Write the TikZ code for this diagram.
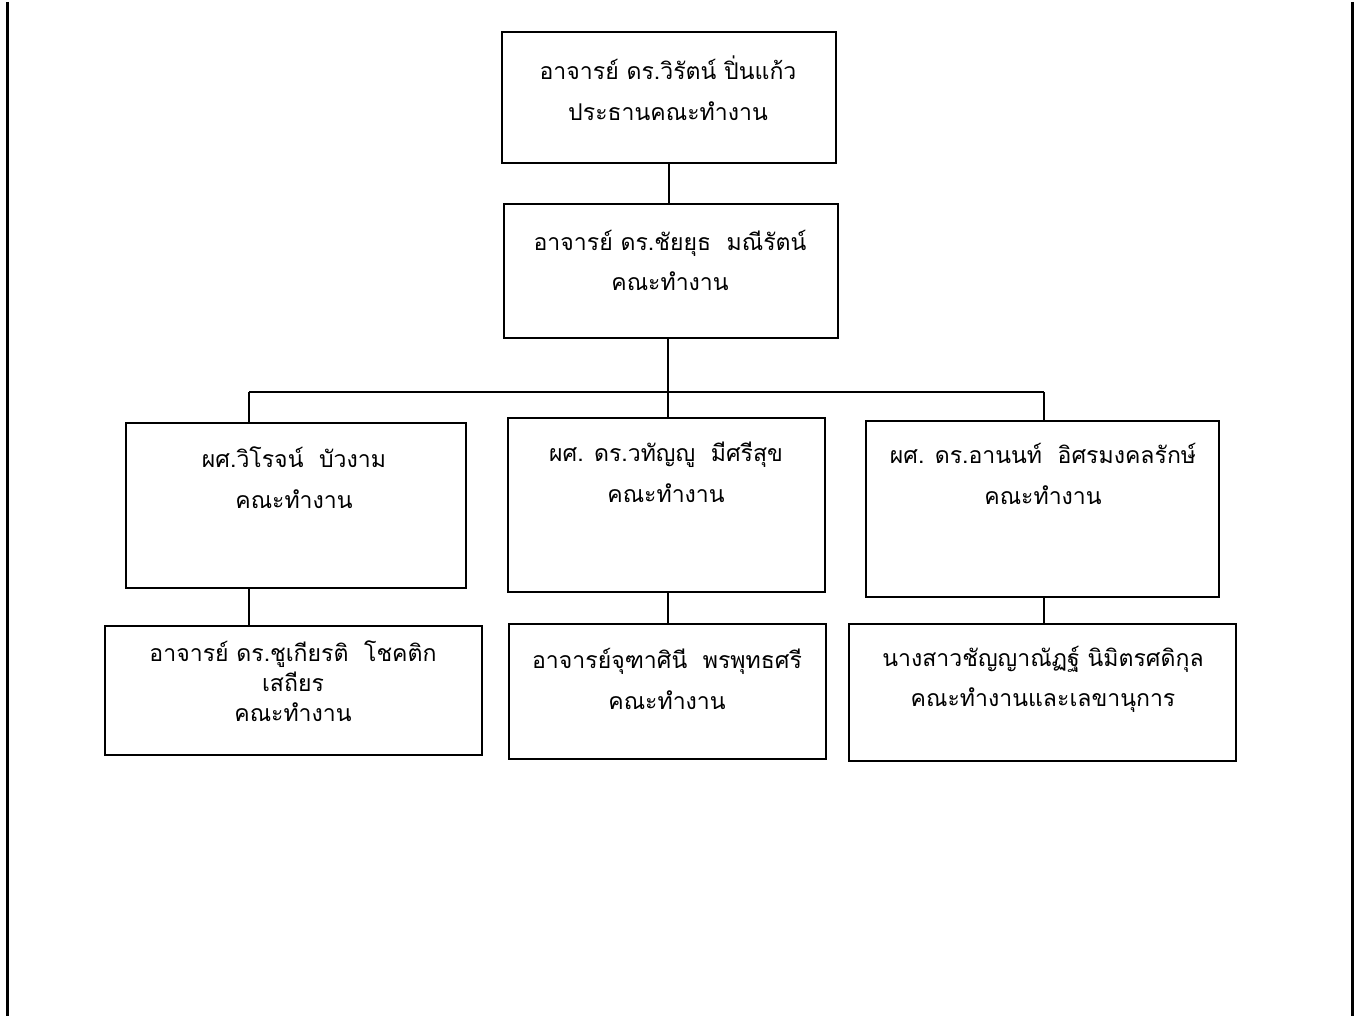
\documentclass[tikz,border=0pt]{standalone}
\usepackage{fontspec}
\newfontfamily\thaifont[Script=Thai]{Loma}
\usetikzlibrary{positioning}

\begin{document}
\begin{tikzpicture}[x=0.75pt,y=-0.75pt,
		box/.style={draw,line width=1.5pt,inner sep=0pt},
		who/.style={font=\thaifont\fontsize{17.3}{30.5}\selectfont,align=center,inner sep=0pt},
		link/.style={line width=1.5pt}]
		\useasboundingbox (0,0) rectangle (1362,1016);
		% side rules of the page
		\draw[line width=2.25pt] (7,2) -- (7,1016);
		\draw[line width=2.25pt] (1352,2) -- (1352,1016);
		% boxes
		\node[box,minimum width=250.5pt,minimum height=98.25pt] (boss) at (669,97.5) {};
		\node[box,minimum width=250.5pt,minimum height=100.5pt] (lead) at (671,271) {};
		\node[box,minimum width=255pt,minimum height=123.75pt] (midL) at (296,505.5) {};
		\node[box,minimum width=237.75pt,minimum height=130.5pt] (midC) at (666.5,505) {};
		\node[box,minimum width=264.75pt,minimum height=132pt] (midR) at (1042.5,509) {};
		\node[box,minimum width=282.75pt,minimum height=96.75pt] (lowL) at (293.5,690.5) {};
		\node[box,minimum width=237.75pt,minimum height=101.25pt] (lowC) at (667.5,691.5) {};
		\node[box,minimum width=290.25pt,minimum height=102.75pt] (lowR) at (1042.5,692.5) {};
		% names
		\node[who] (boss-t) at (668,88) {อาจารย์ ดร.วิรัตน์ ปิ่นแก้ว\\ประธานคณะทำงาน};
		\node[who] (lead-t) at (670,260.5) {อาจารย์ ดร.ชัยยุธ\ \ มณีรัตน์\\คณะทำงาน};
		\node[who] (midL-t) at (294,477.5) {ผศ.วิโรจน์\ \ บัวงาม\\คณะทำงาน};
		\node[who] (midC-t) at (666,472.5) {ผศ. ดร.วทัญญู\ \ มีศรีสุข\\คณะทำงาน};
		\node[who] (midR-t) at (1043,474) {ผศ. ดร.อานนท์\ \ อิศรมงคลรักษ์\\คณะทำงาน};
		\node[who,font=\thaifont\fontsize{17.3}{22.5}\selectfont] (lowL-t) at (293,681) {อาจารย์ ดร.ชูเกียรติ\ \ โชคติก\\เสถียร\\คณะทำงาน};
		\node[who] (lowC-t) at (667,679) {อาจารย์จุฑาศินี\ \ พรพุทธศรี\\คณะทำงาน};
		\node[who] (lowR-t) at (1043,679.5) {นางสาวชัญญาณัฏฐ์ นิมิตรศดิกุล\\คณะทำงานและเลขานุการ};
		% connectors
		\coordinate (busL) at (249,392);
		\coordinate (busC) at (668,392);
		\coordinate (busR) at (1044,392);
		\draw[link] (boss.south) -- (boss.south |- lead.north);
		\draw[link] (busL) -- (busR);
		\draw[link] (busC |- lead.south) -- (busC);
		\draw[link] (busL) -- (busL |- midL.north);
		\draw[link] (busC) -- (busC |- midC.north);
		\draw[link] (busR) -- (busR |- midR.north);
		\draw[link] (busL |- midL.south) -- (busL |- lowL.north);
		\draw[link] (busC |- midC.south) -- (busC |- lowC.north);
		\draw[link] (busR |- midR.south) -- (busR |- lowR.north);
	\end{tikzpicture}
\end{document}
